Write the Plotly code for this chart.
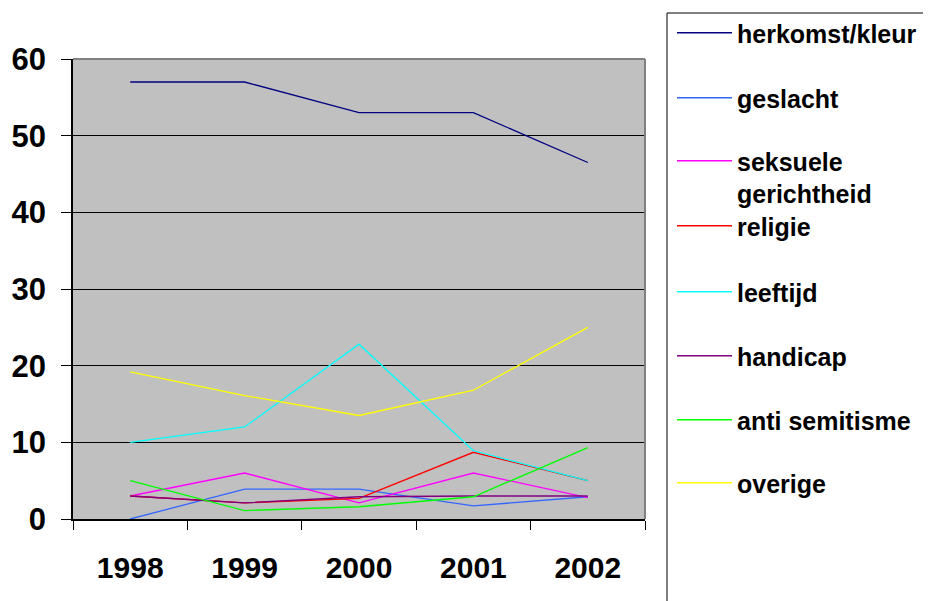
import plotly.graph_objects as go

years = ["1998", "1999", "2000", "2001", "2002"]

herkomst_kleur = [57, 57, 53, 53, 46.5]
geslacht = [0, 3.9, 3.9, 1.7, 2.9]
seksuele_gerichtheid = [3, 6.0, 2.1, 6.0, 2.8]
religie = [3, 2.1, 2.7, 8.7, 5.0]
leeftijd = [10, 12.0, 22.8, 8.9, 5.0]
handicap = [3, 2.1, 2.9, 3, 3]
anti_semitisme = [5.0, 1.1, 1.6, 2.9, 9.3]
overige = [19.2, 16.1, 13.5, 16.8, 25.0]

series_names = ["herkomst/kleur", "geslacht", "seksuele<br>gerichtheid", "religie",
                "leeftijd", "handicap", "anti semitisme", "overige"]
series_values = [herkomst_kleur, geslacht, seksuele_gerichtheid, religie,
                 leeftijd, handicap, anti_semitisme, overige]
series_colors = ["#000080", "#3366FF", "#FF00FF", "#FF0000",
                 "#00FFFF", "#800080", "#00FF00", "#FFFF00"]

# page body has an 8px margin; work in screen pixels and convert
O = 8
W, H = 931 - O, 601 - O
L, R, T, B = 73, 645, 59, 519
legend_sym_y = [33, 98, 177, 226, 292, 356, 420, 483]

def px_x(p):
    return (p - L) / (R - L)

def px_y(p):
    return (B - p) / (B - T)

fig = go.Figure()
for i, (name, vals, col) in enumerate(zip(series_names, series_values, series_colors)):
    lg = "legend" if i == 0 else f"legend{i+1}"
    fig.add_trace(go.Scatter(x=years, y=vals, mode="lines", name=name,
                             line=dict(color=col, width=1.3), legend=lg))

font_family = "Liberation Sans, Arial, sans-serif"
legends = {}
for i in range(len(series_names)):
    key = "legend" if i == 0 else f"legend{i+1}"
    legends[key] = dict(
        x=px_x(672), y=px_y(legend_sym_y[i]), xanchor="left", yanchor="middle",
        bgcolor="rgba(0,0,0,0)", borderwidth=0,
        font=dict(family=font_family, size=25, color="black", weight="bold"),
        itemwidth=55, valign="top",
    )

fig.update_layout(
    width=W, height=H,
    margin=dict(l=L - O, r=W - (R - O), t=T - O, b=H - (B - O), pad=0, autoexpand=False),
    paper_bgcolor="white", plot_bgcolor="#C0C0C0",
    showlegend=True,
    **legends,
    xaxis=dict(
        type="category", range=[-0.5, 4.5], tickson="boundaries",
        ticks="outside", ticklen=9, tickcolor="black", tickwidth=1,
        showline=True, linecolor="black", linewidth=1.5,
        showgrid=False, zeroline=False, automargin=False,
        tickfont=dict(family=font_family, size=30, color="black", weight="bold"),
        ticklabelstandoff=21,
    ),
    yaxis=dict(
        range=[0, 60], dtick=10, tick0=0,
        ticks="outside", ticklen=10, tickcolor="black", tickwidth=1,
        showline=True, linecolor="black", linewidth=1.5,
        showgrid=True, gridcolor="black", gridwidth=1, zeroline=False,
        automargin=False,
        tickfont=dict(family=font_family, size=31, color="black", weight="bold"),
        ticklabelstandoff=9,
    ),
    shapes=[
        dict(type="line", xref="paper", yref="paper", x0=0, x1=1, y0=1, y1=1,
             line=dict(color="#808080", width=2)),
        dict(type="line", xref="paper", yref="paper", x0=1, x1=1, y0=0, y1=1,
             line=dict(color="#808080", width=2)),
        dict(type="line", xref="paper", yref="paper", x0=px_x(667), x1=px_x(667),
             y0=px_y(13), y1=px_y(610), line=dict(color="#808080", width=2)),
        dict(type="line", xref="paper", yref="paper", x0=px_x(667), x1=px_x(935),
             y0=px_y(13), y1=px_y(13), line=dict(color="black", width=1)),
    ],
)

fig.write_html("out.html")
